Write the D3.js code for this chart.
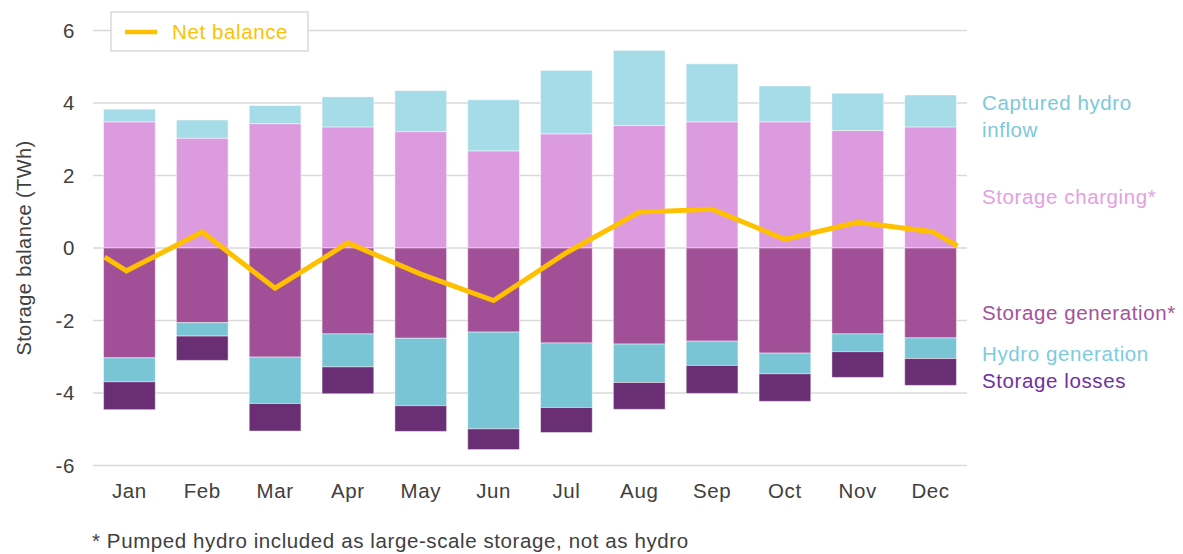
<!DOCTYPE html>
<html>
<head>
<meta charset="utf-8">
<script src="https://cdn.jsdelivr.net/npm/d3@7"></script>
<style>
  html, body { margin: 0; padding: 0; background: #fff; }
  svg { display: block; font-family: "Liberation Sans", Arial, sans-serif; }
  svg text { letter-spacing: 0.6px; }
</style>
</head>
<body>
<svg id="chart" width="1183" height="554"></svg>
<script>
// ---- data ----
const months = ["Jan","Feb","Mar","Apr","May","Jun","Jul","Aug","Sep","Oct","Nov","Dec"];
const capturedInflow   = [0.35, 0.50, 0.50, 0.83, 1.13, 1.41, 1.75, 2.07, 1.60, 0.99, 1.03, 0.88];
const storageCharging  = [3.48, 3.03, 3.43, 3.34, 3.21, 2.68, 3.15, 3.38, 3.48, 3.48, 3.24, 3.34];
const storageGeneration= [-3.03, -2.06, -3.01, -2.37, -2.49, -2.32, -2.62, -2.65, -2.57, -2.90, -2.37, -2.48];
const hydroGeneration  = [-0.66, -0.37, -1.28, -0.91, -1.86, -2.67, -1.78, -1.06, -0.67, -0.57, -0.49, -0.57];
const storageLosses    = [-0.77, -0.67, -0.76, -0.74, -0.71, -0.57, -0.69, -0.74, -0.77, -0.76, -0.71, -0.74];
// net balance line: month position (1 = Jan) and value
const netMonth = [0.66, 0.96, 2, 3, 4, 5, 6, 7, 8, 9, 10, 11, 12.02, 12.37];
const netValue = [-0.25, -0.63, 0.44, -1.11, 0.14, -0.72, -1.45, -0.13, 0.99, 1.07, 0.24, 0.71, 0.45, 0.06];
const yTicks = [-6, -4, -2, 0, 2, 4, 6];
const seriesNames = ["Captured hydro inflow", "Storage charging*", "Storage generation*", "Hydro generation", "Storage losses"];
const labelLines = [["Captured hydro", "inflow"], ["Storage charging*"], ["Storage generation*"], ["Hydro generation"], ["Storage losses"]];
const labelAt = [4.0, 1.41, -1.79, -2.9, -3.67];

// ---- styles ----
const fillColors = ["#a6dbe8", "#dd9bdf", "#a15097", "#7ac5d5", "#6a2e75"];
const textColors = ["#7cc8da", "#e3a0e3", "#a4519b", "#7dcbe0", "#7030a0"];
const lineColor = "#ffc000";
const fontSize = 20.5;

const svg = d3.select("#chart");
const pLeft = 93, pRight = 967, pTop = 30.5, pBottom = 465.5;

const x = d3.scaleBand().domain(months).range([pLeft, pRight]).paddingInner(0.29).paddingOuter(0.145);
const y = d3.scaleLinear().domain([-6, 6]).range([pBottom, pTop]);
const xPos = d3.scaleLinear().domain([1, 12])
  .range([x(months[0]) + x.bandwidth() / 2, x(months[11]) + x.bandwidth() / 2]);

// gridlines
svg.append("g").selectAll("line").data(yTicks).join("line")
  .attr("x1", pLeft).attr("x2", pRight)
  .attr("y1", d => y(d)).attr("y2", d => y(d))
  .attr("stroke", "#d9d9d9").attr("stroke-width", 1.5);

// y tick labels
svg.append("g").selectAll("text").data(yTicks).join("text")
  .attr("x", 75).attr("y", d => y(d)).attr("dy", "0.36em")
  .attr("text-anchor", "end").attr("fill", "#404040")
  .attr("font-size", fontSize).text(d => d);

// y axis title
svg.append("text")
  .attr("transform", `translate(31, ${(pTop + pBottom) / 2}) rotate(-90)`)
  .attr("text-anchor", "middle").attr("fill", "#404040")
  .attr("font-size", 20).style("letter-spacing", "0.4px").text("Storage balance (TWh)");

// x labels
svg.append("g").selectAll("text").data(months).join("text")
  .attr("x", d => x(d) + x.bandwidth() / 2).attr("y", 498)
  .attr("text-anchor", "middle").attr("fill", "#404040")
  .attr("font-size", fontSize).text(d => d);

// stacked bars
const rows = months.map((m, i) => ({
  month: m,
  parts: [
    { k: 1, v0: 0, v1: storageCharging[i] },
    { k: 0, v0: storageCharging[i], v1: storageCharging[i] + capturedInflow[i] },
    { k: 2, v0: 0, v1: storageGeneration[i] },
    { k: 3, v0: storageGeneration[i], v1: storageGeneration[i] + hydroGeneration[i] },
    { k: 4, v0: storageGeneration[i] + hydroGeneration[i], v1: storageGeneration[i] + hydroGeneration[i] + storageLosses[i] }
  ]
}));

const g = svg.append("g");
rows.forEach(r => {
  g.selectAll(null).data(r.parts).join("rect")
    .attr("x", x(r.month)).attr("width", x.bandwidth())
    .attr("y", d => y(Math.max(d.v0, d.v1)))
    .attr("height", d => Math.abs(y(d.v0) - y(d.v1)))
    .attr("fill", d => fillColors[d.k])
    .attr("stroke", "rgba(255,255,255,0.45)").attr("stroke-width", 1);
});

// net balance line
const line = d3.line().x((d, i) => xPos(netMonth[i])).y(d => y(d));
svg.append("path").datum(netValue)
  .attr("d", line).attr("fill", "none")
  .attr("stroke", lineColor).attr("stroke-width", 5)
  .attr("stroke-linejoin", "miter");

// legend
svg.append("rect").attr("x", 111).attr("y", 12).attr("width", 197).attr("height", 39)
  .attr("fill", "#fff").attr("stroke", "#d0d0d0").attr("stroke-width", 1.2);
svg.append("line").attr("x1", 125).attr("x2", 157).attr("y1", 32).attr("y2", 32)
  .attr("stroke", lineColor).attr("stroke-width", 4.5);
svg.append("text").attr("x", 172).attr("y", 32).attr("dy", "0.36em")
  .attr("fill", lineColor).attr("font-size", fontSize).text("Net balance");

// right-side series labels
labelLines.forEach((lines, k) => {
  const t = svg.append("text").attr("x", 982).attr("y", y(labelAt[k]))
    .attr("fill", textColors[k]).attr("font-size", fontSize);
  lines.forEach((ln, j) => {
    t.append("tspan").attr("x", 982).attr("dy", j === 0 ? "0.36em" : "1.3em").text(ln);
  });
});

// footnote
svg.append("text").attr("x", 92).attr("y", 548)
  .attr("fill", "#404040").attr("font-size", fontSize)
  .text("* Pumped hydro included as large-scale storage, not as hydro");
</script>
</body>
</html>
